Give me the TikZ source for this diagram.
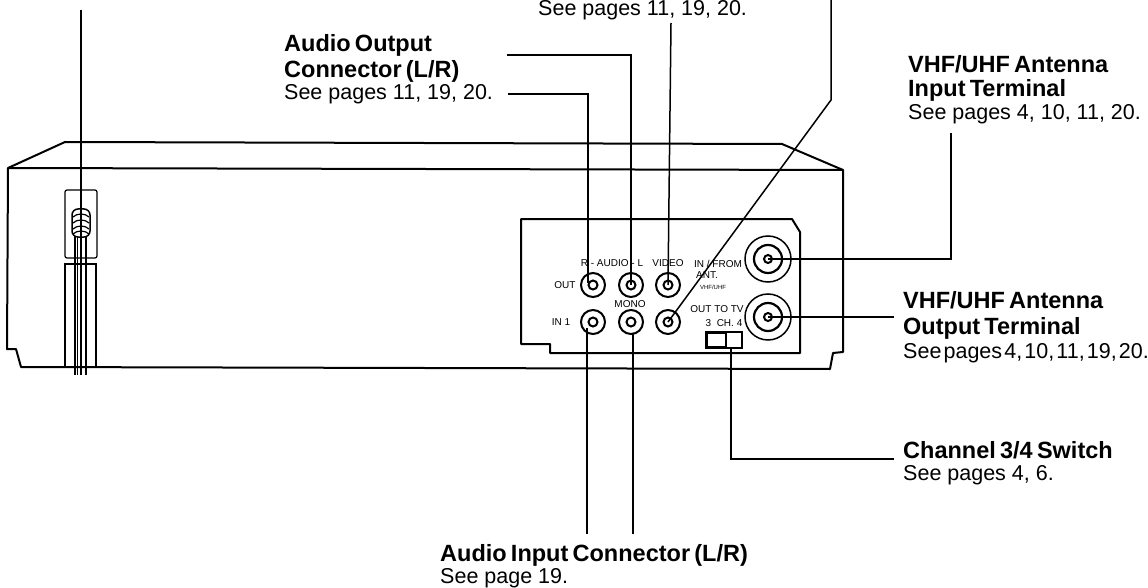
\documentclass[tikz,border=0pt]{standalone}
\usepackage{fontspec}
\setmainfont{Liberation Sans}
\usetikzlibrary{positioning}
\newcommand{\lblhead}[1]{{\fontsize{23.5}{26}\selectfont\bfseries\spaceskip=.18em #1}}

\begin{document}
\begin{tikzpicture}[
  x=1pt,y=-1pt,
  body/.style={draw=black,line width=2pt,line join=round},
  thin/.style={draw=black,line width=1.2pt},
  leader/.style={draw=black,line width=1.5pt},
  jack/.style={circle,draw=black,line width=2pt,minimum size=24pt,inner sep=0pt},
  jackhole/.style={circle,draw=black,line width=2pt,minimum size=9pt,inner sep=0pt},
  coax/.style={circle,draw=black,line width=1.5pt,minimum size=46pt,inner sep=0pt},
  coaxmid/.style={circle,draw=black,line width=2.2pt,minimum size=28pt,inner sep=0pt},
  coaxhole/.style={circle,draw=black,line width=2pt,minimum size=8pt,inner sep=0pt},
  panel/.style={font=\fontsize{10}{11}\selectfont,inner sep=0pt},
  label/.style={anchor=north west,align=left,inner sep=0pt,
    font=\fontsize{21.5}{26}\selectfont}]

\useasboundingbox (0,0) rectangle (1148,588);

% casing
\draw[body] (8,168) -- (65,142) -- (782,144) -- (843,170) -- (843,352) -- (833,353)
  -- (830,369) -- (21,367) -- (16,349) -- (7,349) -- cycle;
\draw[body] (8,168) -- (843,170);

% connector panel
\draw[body] (521,219) -- (792,219) -- (800,232) -- (800,353) -- (550,353)
  -- (550,344) -- (521,344) -- cycle;

% cord holder and plug
\draw[thin,rounded corners=2pt] (65,190) rectangle (97,258);
\draw[thin] (65,367) -- (65,264) -- (96,264) -- (96,367);
\node[draw=black,line width=1.5pt,fill=white,rounded corners=6pt,
  minimum width=18pt,minimum height=28pt,inner sep=0pt] (plug) at (81,223) {};
\foreach \y in {217,223,229,234}
  \draw[thin] (73,\y) .. controls (77,\y-4) and (85,\y-4) .. (89,\y);
\foreach \x in {75,77.5,86}
  \draw[thin,fill=white] (\x,236) -- (\x,375);

% jacks
\foreach \name/\x/\y in {outR/593/285,outL/631/285,outV/668/285,
    inR/593/322,inL/631/322,inV/668/322}{
  \node[jack] (\name) at (\x,\y) {};
  \node[jackhole] (\name hole) at (\name) {};
}
\foreach \name/\y in {antin/259,antout/317}{
  \node[coax] (\name) at (768,\y) {};
  \node[coaxmid] (\name mid) at (\name) {};
  \node[coaxhole] (\name hole) at (\name) {};
}

% channel switch
\node[draw=black,line width=1.4pt,minimum width=36pt,minimum height=16pt,inner sep=0pt]
  (switch) at (724,340) {};
\node[draw=black,line width=2pt,minimum width=19pt,minimum height=14pt,inner sep=0pt]
  (slider) at (716.5,340) {};

% panel texts
\node[panel] (txtaudio) at (612,263) {R - AUDIO - L};
\node[panel] (txtvideo) at (668,263) {VIDEO};
\node[panel] (txtout) at (565,285) {OUT};
\node[panel] (txtin) at (561,322) {IN 1};
\node[panel] (txtmono) at (630,304) {MONO};
\node[panel] (txtfrom) at (718,264) {IN / FROM};
\node[panel] (txtant) at (707,275) {ANT.};
\node[panel,font=\fontsize{6}{7}\selectfont] (txtvhf) at (713,287) {VHF/UHF};
\node[panel] (txttotv) at (717,309) {OUT TO TV};
\node[panel] (txtch) at (724,323) {3\ \ CH. 4};

% labels
\node[label] (audioout) at (284,34) {\lblhead{Audio Output}\\\lblhead{Connector (L/R)}\\[-4pt]See pages 11, 19, 20.};
\node[label] (videolbl) at (538,0.5) {See pages 11, 19, 20.};
\node[label] (antinlbl) at (908,55) {\lblhead{VHF/UHF Antenna}\\[-2pt]\lblhead{Input Terminal}\\[-3pt]See pages 4, 10, 11, 20.};
\node[label] (antoutlbl) at (903,291) {\lblhead{VHF/UHF Antenna}\\\lblhead{Output Terminal}\\[-2pt]{\spaceskip=.1em See pages 4, 10, 11, 19, 20.}};
\node[label] (chlbl) at (903,441) {\lblhead{Channel 3/4 Switch}\\[-4pt]See pages 4, 6.};
\node[label] (audioin) at (440,544) {\lblhead{Audio Input Connector (L/R)}\\[-4pt]See page 19.};

% leader ends
\coordinate (cordtop) at (81,10);
\coordinate (aoutA) at (507,55);
\coordinate (aoutB) at (508,94);
\coordinate (videotop) at (671,23);
\coordinate (rftop) at (831,0);
\coordinate (rfbend) at (831,100);
\coordinate (ainA) at (587,534);
\coordinate (ainB) at (633,534);
\coordinate (chend) at (894,459);
\coordinate (antinend) at (951,133);
\coordinate (antoutend) at (894,317);

\draw[leader] (cordtop) -- (81,375);
\draw[leader] (aoutA) -| (outL.center);
\draw[leader] (aoutB) -| (588,283);
\draw[leader] (videotop) -- (outV.center);
\draw[leader] (rftop) -- (rfbend) -- (inV.center);
\draw[leader] (ainA) -- (587,328);
\draw[leader] (ainB) -- (633,333);
\draw[leader] (chend) -| ([xshift=7pt]switch.south);
\draw[leader] (antinend) |- (antin.center);
\draw[leader] (antoutend) -- (antout.center);
\end{tikzpicture}
\end{document}
